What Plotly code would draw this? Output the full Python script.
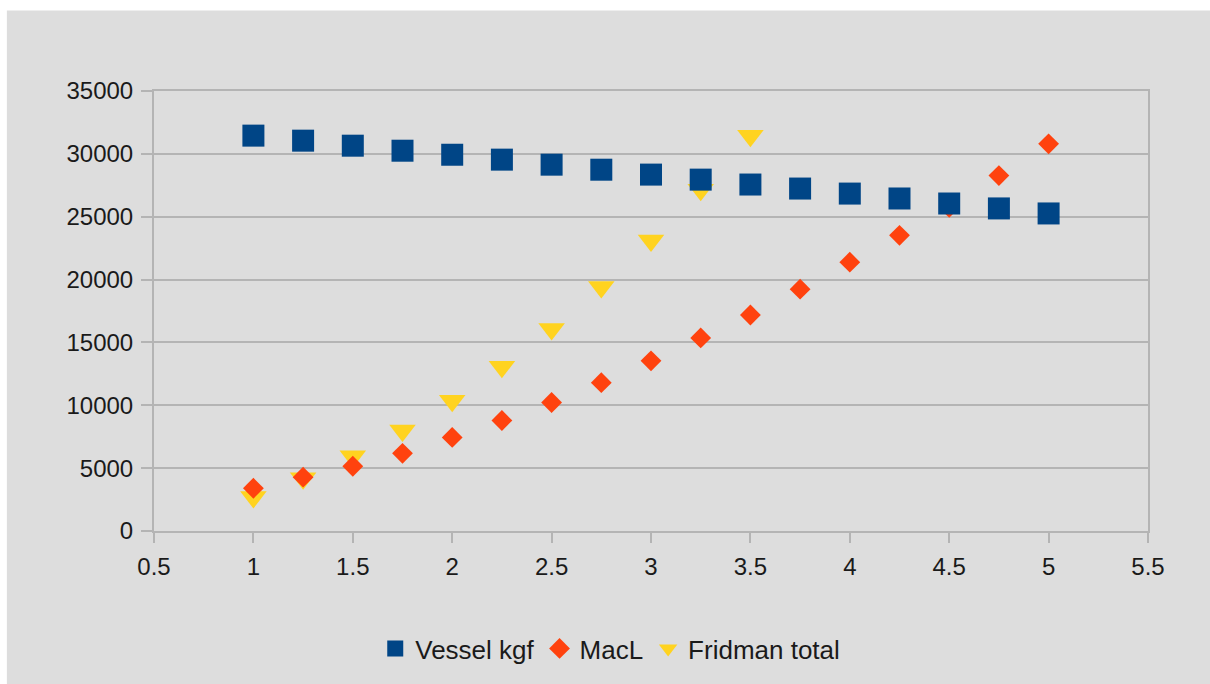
import plotly.graph_objects as go

x_vals = [1, 1.25, 1.5, 1.75, 2, 2.25, 2.5, 2.75, 3, 3.25, 3.5, 3.75, 4, 4.25, 4.5, 4.75, 5]
vessel_kgf = [31450, 31050, 30650, 30250, 29930, 29540, 29140, 28740, 28350, 27950, 27560, 27240,
              26840, 26450, 26050, 25660, 25260]
macl = [3400, 4280, 5150, 6180, 7440, 8790, 10220, 11800, 13540, 15360, 17180, 19240,
        21380, 23520, 25740, 28270, 30800]
fridman_x = [1, 1.25, 1.5, 1.75, 2, 2.25, 2.5, 2.75, 3, 3.25, 3.5]
fridman_total = [2700, 4200, 5940, 8000, 10370, 13060, 16070, 19400, 23100, 27150, 31440]

BG = '#dddddd'
GRID = '#b4b4b4'
FONT = 'Liberation Sans, Arial, sans-serif'

fig = go.Figure()
# drawn back to front: triangles, diamonds, squares
fig.add_trace(go.Scatter(x=fridman_x, y=fridman_total, mode='markers', name='Fridman total', legendrank=3,
                         marker=dict(symbol='triangle-down', size=23, color='#ffd320')))
fig.add_trace(go.Scatter(x=x_vals, y=macl, mode='markers', name='MacL', legendrank=2,
                         marker=dict(symbol='diamond', size=16, color='#ff420e')))
fig.add_trace(go.Scatter(x=x_vals, y=vessel_kgf, mode='markers', name='Vessel kgf', legendrank=1,
                         marker=dict(symbol='square', size=22, color='#004586')))

# grey chart area with a thin white strip on the left and top
fig.add_shape(type='rect', xref='paper', yref='paper', x0=-0.148, x1=1.07, y0=-0.36, y1=1.183,
              fillcolor=BG, line_width=0, layer='below')

fig.update_xaxes(range=[0.5, 5.5], dtick=0.5, tick0=0.5, showgrid=False, zeroline=False,
                 showline=True, linecolor=GRID, linewidth=2, mirror=True,
                 ticks='outside', ticklen=10, tickwidth=2, tickcolor=GRID, ticklabelstandoff=3)
fig.update_yaxes(range=[0, 35000], dtick=5000, tickformat='d', showgrid=True, gridcolor=GRID, gridwidth=2,
                 zeroline=False, showline=True, linecolor=GRID, linewidth=2, mirror=True,
                 ticks='outside', ticklen=11, tickwidth=2, tickcolor=GRID, ticklabelstandoff=3)

fig.update_layout(
    width=1210, height=684,
    margin=dict(l=154, r=62, t=91, b=151),
    paper_bgcolor='white', plot_bgcolor=BG,
    font=dict(family=FONT, size=24, color='#1a1a1a'),
    showlegend=True,
    legend=dict(orientation='h', x=0.459, xanchor='center', y=-0.267, yanchor='middle',
                bgcolor='rgba(0,0,0,0)', font=dict(size=26), itemwidth=30, tracegroupgap=0),
)

fig.write_html('out.html', config={'displayModeBar': False},
               post_script="document.body.style.margin='0';")
